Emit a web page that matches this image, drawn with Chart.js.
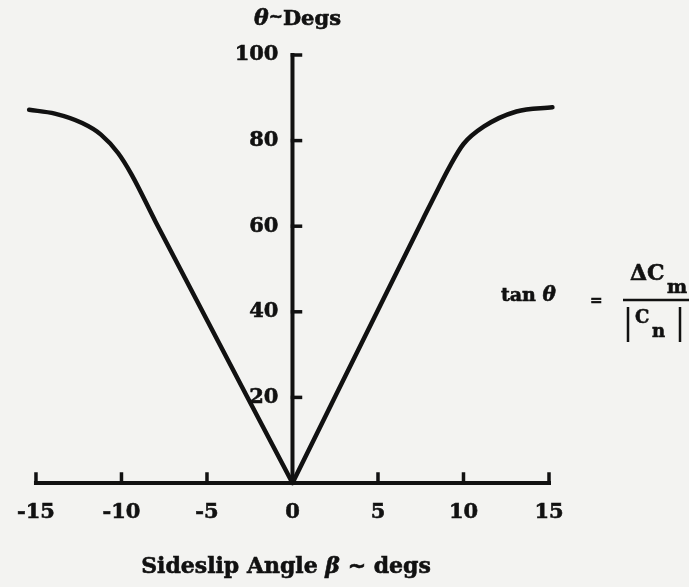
<!DOCTYPE html>
<html>
<head>
<meta charset="utf-8">
<script src="https://cdn.jsdelivr.net/npm/chart.js@4.4.1/dist/chart.umd.min.js"></script>
<style>
  html, body { margin: 0; padding: 0; background: #f3f3f1; }
  #wrap { width: 689px; height: 587px; position: relative; }
</style>
</head>
<body>
<div id="wrap"><canvas id="thetaChart"></canvas></div>
<script>
// theta vs sideslip angle, one branch each side of beta = 0
const betaNeg  = [-15.4, -13.9, -12.3, -11.2, -10.2, -9.4, -8.0, 0];
const thetaNeg = [87.2, 86.3, 84.1, 81.4, 77.1, 72.0, 61.0, 0];
const betaPos  = [0, 7.6, 8.3, 9.2, 10.0, 11.2, 13.1, 15.2];
const thetaPos = [0, 61.4, 67.0, 74.0, 79.2, 83.3, 86.8, 87.8];

const xTicks = [-15, -10, -5, 0, 5, 10, 15];
const yTicks = [20, 40, 60, 80, 100];

const SERIF = '"DejaVu Serif", serif';
const INK = '#111';

function toPoints(xs, ys) {
	return xs.map((x, i) => ({ x: x, y: ys[i] }));
}

function ink(ctx, text, x, y) {
	ctx.fillText(text, x, y);
	ctx.strokeText(text, x, y);
}

// draw a row of text pieces with their own fonts, left to right
function drawRuns(ctx, runs, x, y, align) {
	let total = 0;
	runs.forEach(r => { ctx.font = r.font; total += ctx.measureText(r.text).width; });
	let cx = align === 'center' ? x - total / 2 : x;
	runs.forEach(r => {
		ctx.font = r.font;
		ink(ctx, r.text, cx, y + (r.dy || 0));
		cx += ctx.measureText(r.text).width;
	});
}

// axis lines with inward tick marks, and the labels around the plot
const axesPlugin = {
	id: 'axes',
	beforeDatasetsDraw(chart) {
		const ctx = chart.ctx;
		const xs = chart.scales.x, ys = chart.scales.y;
		const x0 = xs.getPixelForValue(0);
		const y0 = ys.getPixelForValue(0);
		ctx.save();
		ctx.strokeStyle = INK;
		ctx.lineCap = 'square';

		// vertical axis at beta = 0
		ctx.lineWidth = 4;
		ctx.beginPath();
		ctx.moveTo(x0, y0);
		ctx.lineTo(x0, ys.getPixelForValue(100));
		ctx.stroke();
		ctx.lineWidth = 3.5;
		yTicks.forEach(v => {
			const py = ys.getPixelForValue(v);
			ctx.beginPath();
			ctx.moveTo(x0, py);
			ctx.lineTo(x0 + 8, py);
			ctx.stroke();
		});

		// horizontal axis at theta = 0
		ctx.lineWidth = 4;
		ctx.beginPath();
		ctx.moveTo(xs.getPixelForValue(xTicks[0]), y0);
		ctx.lineTo(xs.getPixelForValue(xTicks[xTicks.length - 1]), y0);
		ctx.stroke();
		ctx.lineWidth = 3.5;
		xTicks.forEach(v => {
			if (v === 0) return;
			const px = xs.getPixelForValue(v);
			ctx.beginPath();
			ctx.moveTo(px, y0);
			ctx.lineTo(px, y0 - 9);
			ctx.stroke();
		});

		// y tick labels, left of the centred axis
		ctx.fillStyle = INK;
		ctx.lineWidth = 0.6;
		ctx.font = 'bold 21px ' + SERIF;
		ctx.textAlign = 'right';
		ctx.textBaseline = 'middle';
		yTicks.forEach(v => {
			ink(ctx, String(v), x0 - 14, ys.getPixelForValue(v));
		});
		ctx.restore();
	},
	afterDraw(chart) {
		const ctx = chart.ctx;
		const x0 = chart.scales.x.getPixelForValue(0);
		ctx.save();
		ctx.fillStyle = INK;
		ctx.strokeStyle = INK;
		ctx.lineWidth = 0.6;
		ctx.textBaseline = 'alphabetic';

		// y axis title
		drawRuns(ctx, [
			{ text: '\u03B8', font: 'italic bold 22px ' + SERIF },
			{ text: '~', font: 'bold 17px ' + SERIF, dy: -3 },
			{ text: 'Degs', font: 'bold 21px ' + SERIF }
		], x0 + 5, 25, 'center');

		// x axis title
		drawRuns(ctx, [
			{ text: 'Sideslip Angle ', font: 'bold 22px ' + SERIF },
			{ text: '\u03B2', font: 'italic bold 22px ' + SERIF },
			{ text: ' ~ degs', font: 'bold 22px ' + SERIF }
		], 286, 573, 'center');

		// tan(theta) = dCm / |Cn|
		drawRuns(ctx, [
			{ text: 'tan ', font: 'bold 19px ' + SERIF },
			{ text: '\u03B8', font: 'italic bold 20px ' + SERIF }
		], 501, 301, 'left');
		ctx.font = 'bold 15px ' + SERIF;
		ink(ctx, '=', 590, 305);
		ctx.font = 'bold 22px ' + SERIF;
		ink(ctx, '\u0394C', 630, 280);
		ctx.font = 'bold 19px ' + SERIF;
		ink(ctx, 'm', 667, 293);
		ctx.lineWidth = 2.5;
		ctx.beginPath();
		ctx.moveTo(623, 300);
		ctx.lineTo(689, 300);
		ctx.stroke();
		ctx.beginPath();
		ctx.moveTo(628, 307); ctx.lineTo(628, 342);
		ctx.moveTo(680, 307); ctx.lineTo(680, 342);
		ctx.stroke();
		ctx.lineWidth = 0.6;
		ctx.font = 'bold 18px ' + SERIF;
		ink(ctx, 'C', 635, 323);
		ctx.font = 'bold 18px ' + SERIF;
		ink(ctx, 'n', 652, 337);
		ctx.restore();
	}
};

const lineStyle = {
	borderColor: INK,
	borderWidth: 4.5,
	pointRadius: 0,
	fill: false,
	cubicInterpolationMode: 'monotone',
	borderCapStyle: 'round',
	borderJoinStyle: 'round',
	clip: false
};

new Chart(document.getElementById('thetaChart'), {
	type: 'line',
	data: {
		datasets: [
			Object.assign({ label: 'beta < 0', data: toPoints(betaNeg, thetaNeg) }, lineStyle),
			Object.assign({ label: 'beta > 0', data: toPoints(betaPos, thetaPos) }, lineStyle)
		]
	},
	options: {
		responsive: true,
		maintainAspectRatio: false,
		animation: false,
		layout: { padding: { left: 35, right: 140, top: 55, bottom: 0 } },
		plugins: {
			legend: { display: false },
			tooltip: { enabled: false }
		},
		scales: {
			x: {
				type: 'linear',
				min: -15,
				max: 15,
				position: 'bottom',
				afterFit: s => { s.height = 104; },
				grid: { display: false, drawTicks: false },
				border: { display: false },
				ticks: {
					stepSize: 5,
					padding: 17,
					color: INK,
					textStrokeColor: INK,
					textStrokeWidth: 0.6,
					font: { family: SERIF, size: 21, weight: 'bold' }
				}
			},
			y: {
				type: 'linear',
				min: 0,
				max: 100,
				position: { x: 0 },
				grid: { display: false, drawTicks: false },
				border: { display: false },
				ticks: { stepSize: 20, display: false }
			}
		}
	},
	plugins: [axesPlugin]
});
</script>
</body>
</html>
